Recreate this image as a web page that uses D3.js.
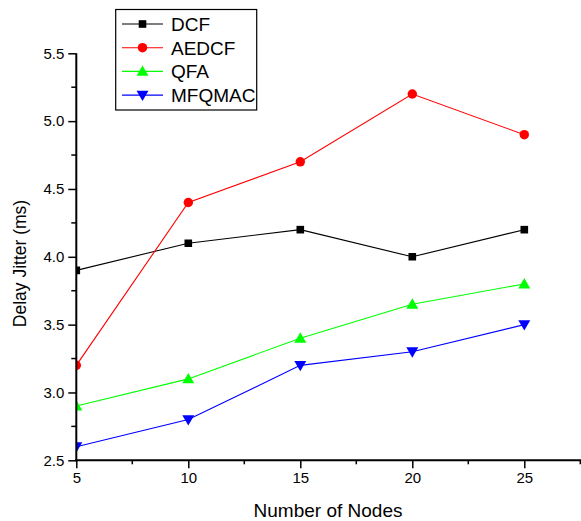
<!DOCTYPE html>
<html>
<head>
<meta charset="utf-8">
<script src="https://cdn.jsdelivr.net/npm/d3@7"></script>
<style>
  body { margin: 0; background: #fff; }
  svg { display: block; font-family: "Liberation Sans", Arial, sans-serif; }
</style>
</head>
<body>
<svg id="chart" width="581" height="521"></svg>
<script>
// chart values
const nodes = [5, 10, 15, 20, 25];
const dcf = [3.9, 4.1, 4.2, 4.0, 4.2];
const aedcf = [3.2, 4.4, 4.7, 5.2, 4.9];
const qfa = [2.9, 3.1, 3.4, 3.65, 3.8];
const mfqmac = [2.6, 2.8, 3.2, 3.3, 3.5];
const seriesNames = ['DCF', 'AEDCF', 'QFA', 'MFQMAC'];
const xTicks = [5, 10, 15, 20, 25];
const yTicks = [2.5, 3.0, 3.5, 4.0, 4.5, 5.0, 5.5];

const width = 581,
	height = 521,
	margin = {top: 53.3, left: 76.3, bottom: 60.7};

const series = [
	{name: seriesNames[0], values: dcf, color: '#000000', symbol: d3.symbolSquare, size: 58, rot: 0},
	{name: seriesNames[1], values: aedcf, color: '#ff0000', symbol: d3.symbolCircle, size: 70, rot: 0},
	{name: seriesNames[2], values: qfa, color: '#00ff00', symbol: d3.symbolTriangle, size: 62, rot: 0},
	{name: seriesNames[3], values: mfqmac, color: '#0000ff', symbol: d3.symbolTriangle, size: 62, rot: 180}
];

const x = d3.scaleLinear()
	.domain([5, 30])
	.range([margin.left, margin.left + 112 * 5]);

const y = d3.scaleLinear()
	.domain([2.5, 5.5])
	.range([height - margin.bottom, margin.top]);

const svg = d3.select('#chart');

svg.append('defs').append('clipPath')
	.attr('id', 'plotClip')
	.append('rect')
	.attr('x', margin.left)
	.attr('y', 0)
	.attr('width', width - margin.left)
	.attr('height', height - margin.bottom + 6);

// lines + markers
const plot = svg.append('g').attr('clip-path', 'url(#plotClip)');

const line = d3.line()
	.x((d, i) => x(nodes[i]))
	.y(d => y(d));

series.forEach(s => {
	plot.append('path')
		.attr('d', line(s.values))
		.attr('fill', 'none')
		.attr('stroke', s.color)
		.attr('stroke-width', 1.1);

	plot.selectAll(null)
		.data(s.values)
		.enter()
		.append('path')
		.attr('d', d3.symbol().type(s.symbol).size(s.size))
		.attr('transform', (d, i) => `translate(${x(nodes[i])},${y(d) + (s.symbol === d3.symbolTriangle ? (s.rot ? -1 : 1) : 0)}) rotate(${s.rot})`)
		.attr('fill', s.color);
});

// x axis
const xAxis = d3.axisBottom(x)
	.tickValues(xTicks)
	.tickSize(8)
	.tickPadding(4)
	.tickFormat(d3.format('d'));

const gx = svg.append('g')
	.attr('transform', `translate(0,${y(2.5)})`)
	.call(xAxis);

gx.select('.domain').remove();
gx.append('line')
	.attr('x1', margin.left - 1)
	.attr('x2', width)
	.attr('stroke', '#000')
	.attr('stroke-width', 2);

gx.selectAll('.minor')
	.data([7.5, 12.5, 17.5, 22.5, 27.5])
	.enter()
	.append('line')
	.attr('x1', d => x(d))
	.attr('x2', d => x(d))
	.attr('y2', 4)
	.attr('stroke', '#000')
	.attr('stroke-width', 1.5);

gx.selectAll('.tick line').attr('stroke-width', 1.5);
gx.selectAll('.tick text')
	.style('font-size', '15px')
	.style('font-family', '"Liberation Sans", Arial, sans-serif')
	.attr('fill', '#000');

// y axis
const yAxis = d3.axisLeft(y)
	.tickValues(yTicks)
	.tickSize(8)
	.tickPadding(4)
	.tickFormat(d3.format('.1f'));

const gy = svg.append('g')
	.attr('transform', `translate(${margin.left},0)`)
	.call(yAxis);

gy.select('.domain').remove();
gy.append('line')
	.attr('y1', y(5.5))
	.attr('y2', y(2.5) + 1)
	.attr('stroke', '#000')
	.attr('stroke-width', 2);

gy.selectAll('.minor')
	.data([2.75, 3.25, 3.75, 4.25, 4.75, 5.25])
	.enter()
	.append('line')
	.attr('y1', d => y(d))
	.attr('y2', d => y(d))
	.attr('x2', -5)
	.attr('stroke', '#000')
	.attr('stroke-width', 1.5);

gy.selectAll('.tick line').attr('stroke-width', 1.5);
gy.selectAll('.tick text')
	.style('font-size', '15px')
	.style('font-family', '"Liberation Sans", Arial, sans-serif')
	.attr('fill', '#000');

// axis titles
svg.append('text')
	.attr('x', 328)
	.attr('y', 517)
	.attr('text-anchor', 'middle')
	.style('font-size', '19px')
	.text('Number of Nodes');

svg.append('text')
	.attr('transform', `translate(25.5,263.5) rotate(-90)`)
	.attr('text-anchor', 'middle')
	.style('font-size', '17.5px')
	.text('Delay Jitter (ms)');

// legend
const legend = svg.append('g');

legend.append('rect')
	.attr('x', 115.7)
	.attr('y', 9.5)
	.attr('width', 141)
	.attr('height', 100.5)
	.attr('fill', '#fff')
	.attr('stroke', '#000')
	.attr('stroke-width', 1.2);

const entry = legend.selectAll('.entry')
	.data(series)
	.enter()
	.append('g')
	.attr('transform', (d, i) => `translate(0,${24 + i * 23.7})`);

entry.append('line')
	.attr('x1', 122)
	.attr('x2', 163)
	.attr('stroke', d => d.color)
	.attr('stroke-width', 1.1);

entry.append('path')
	.attr('d', d => d3.symbol().type(d.symbol).size(d.size)())
	.attr('transform', d => `translate(142.5,${d.symbol === d3.symbolTriangle ? (d.rot ? -1 : 1) : 0}) rotate(${d.rot})`)
	.attr('fill', d => d.color);

entry.append('text')
	.attr('x', 171)
	.attr('dy', '0.36em')
	.style('font-size', '19px')
	.text(d => d.name);
</script>
</body>
</html>
